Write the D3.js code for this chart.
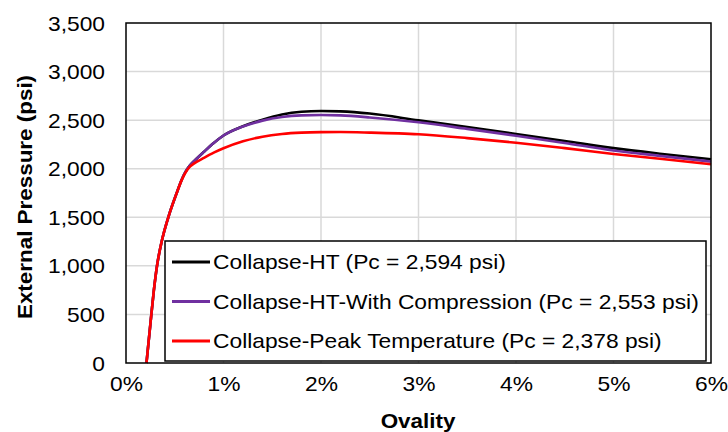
<!DOCTYPE html>
<html><head><meta charset="utf-8">
<script src="https://cdn.jsdelivr.net/npm/d3@7"></script>
<style>
html,body{margin:0;padding:0;background:#fff;}
svg text{font-family:"Liberation Sans",Arial,sans-serif;fill:#000;}
</style></head>
<body><svg id="c" width="728" height="432"></svg>
<script>
// ---- data ----
const ovality      = [0.21,0.235,0.26,0.286,0.318,0.366,0.434,0.52,0.57,0.61,0.65,0.70,0.80,0.90,1.00,1.20,1.40,1.60,1.80,2.00,2.20,2.50,3.00,3.50,4.00,4.50,5.00,5.50,6.00];
const collapseHT   = [0,250,500,750,1000,1250,1500,1750,1885,1968,2027,2080,2175,2265,2342,2437,2505,2558,2586,2594,2590,2568,2498,2428,2357,2285,2212,2152,2097];
const collapseComp = [0,250,500,750,1000,1250,1500,1750,1885,1968,2027,2080,2175,2265,2342,2435,2495,2532,2549,2553,2549,2528,2478,2410,2340,2265,2188,2130,2073];
const collapsePeak = [0,250,500,750,1000,1250,1500,1750,1880,1960,2015,2055,2112,2165,2210,2282,2330,2358,2372,2377,2378,2372,2354,2315,2268,2212,2152,2100,2046];
const seriesNames = ["Collapse-HT (Pc = 2,594 psi)","Collapse-HT-With Compression (Pc = 2,553 psi)","Collapse-Peak Temperature (Pc = 2,378 psi)"];
const seriesColors = ["#000000","#7030a0","#ff0000"];
const xTicks = [0,1,2,3,4,5,6];
const yTicks = [0,500,1000,1500,2000,2500,3000,3500];

const svg = d3.select("#c");
const L=126, R=711, T=23, B=363;
const x = d3.scaleLinear().domain([0,6]).range([L,R]);
const y = d3.scaleLinear().domain([0,3500]).range([B,T]);
const FS = 20, SX = 1.14, TFS = 19.5, TSX = 1.15;

// grid
svg.append("g").selectAll("line").data(yTicks.slice(1,-1)).join("line")
  .attr("x1",L).attr("x2",R).attr("y1",d=>y(d)).attr("y2",d=>y(d))
  .attr("stroke","#d9d9d9").attr("stroke-width",1.5);
svg.append("g").selectAll("line").data(xTicks.slice(1,-1)).join("line")
  .attr("y1",T).attr("y2",B).attr("x1",d=>x(d)).attr("x2",d=>x(d))
  .attr("stroke","#d9d9d9").attr("stroke-width",1.5);

// axes (labels)
const yAxis = svg.append("g").attr("transform",`translate(${L},0)`)
  .call(d3.axisLeft(y).tickValues(yTicks).tickSize(0).tickPadding(0).tickFormat(d3.format(",")));
yAxis.select(".domain").remove();
yAxis.selectAll("text").attr("x",0).attr("dy","0.35em").attr("font-size",FS)
  .attr("transform",`translate(-21,0) scale(${SX},1)`);

const xAxis = svg.append("g").attr("transform",`translate(0,${B})`)
  .call(d3.axisBottom(x).tickValues(xTicks).tickSize(0).tickPadding(0).tickFormat(d=>d+"%"));
xAxis.select(".domain").remove();
xAxis.selectAll("text").attr("y",0).attr("dy","0.35em").attr("font-size",FS)
  .attr("transform",`translate(0,21) scale(${SX},1)`);

// lines
const data = [collapseHT, collapseComp, collapsePeak];
const line = d3.line().x((d,i)=>x(ovality[i])).y(d=>y(d)).curve(d3.curveMonotoneX);
svg.append("g").selectAll("path").data(data).join("path")
  .attr("d",line).attr("fill","none")
  .attr("stroke",(d,i)=>seriesColors[i]).attr("stroke-width",2.6);

// plot border
svg.append("rect").attr("x",L).attr("y",T).attr("width",R-L).attr("height",B-T)
  .attr("fill","none").attr("stroke","#000").attr("stroke-width",1.5);

// legend
const lg = svg.append("g");
lg.append("rect").attr("x",165).attr("y",241).attr("width",541).attr("height",120)
  .attr("fill","#fff").attr("stroke","#000").attr("stroke-width",1.5);
const rows = [262,301.5,341];
seriesNames.forEach((n,i)=>{
  lg.append("line").attr("x1",172).attr("x2",210).attr("y1",rows[i]).attr("y2",rows[i])
    .attr("stroke",seriesColors[i]).attr("stroke-width",3);
  lg.append("text").attr("dy","0.35em").attr("font-size",FS)
    .attr("transform",`translate(213,${rows[i]}) scale(${SX},1)`).text(n);
});

// titles
svg.append("text").attr("font-size",TFS).attr("font-weight","bold").attr("text-anchor","middle")
  .attr("transform",`translate(418,421) scale(${TSX},1)`).attr("dy","0.35em").text("Ovality");
svg.append("text").attr("font-size",TFS).attr("font-weight","bold").attr("text-anchor","middle")
  .attr("transform",`translate(25,197) rotate(-90) scale(${TSX},1)`).attr("dy","0.35em").text("External Pressure (psi)");
</script></body></html>
